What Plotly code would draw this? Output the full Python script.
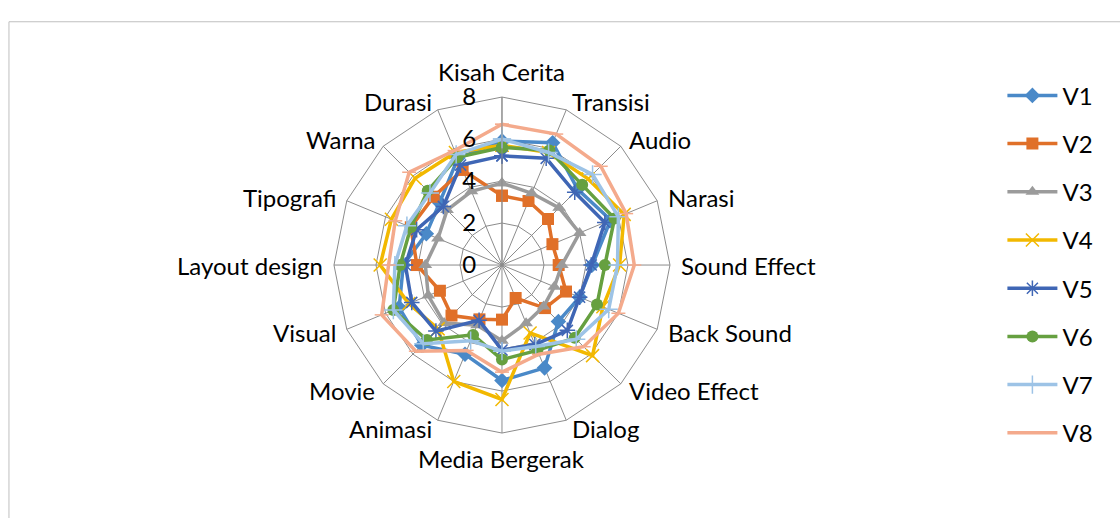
import math
import plotly.graph_objects as go

categories = ["Kisah Cerita", "Transisi", "Audio", "Narasi", "Sound Effect", "Back Sound",
              "Video Effect", "Dialog", "Media Bergerak", "Animasi", "Movie", "Visual",
              "Layout design", "Tipografi", "Warna", "Durasi"]

V1 = [5.9, 6.3, 5.1, 5.6, 4.3, 4.0, 3.8, 5.3, 5.5, 4.6, 5.4, 5.3, 4.7, 3.9, 4.2, 5.5]
V2 = [3.3, 3.3, 3.1, 2.6, 2.7, 3.3, 2.9, 1.7, 2.6, 2.8, 3.4, 3.2, 4.05, 4.7, 4.6, 4.9]
V3 = [3.9, 3.7, 3.85, 4.0, 2.85, 2.7, 2.8, 3.0, 3.6, 3.1, 3.9, 3.8, 3.65, 3.3, 3.7, 3.8]
V4 = [5.7, 5.8, 5.8, 6.3, 5.6, 5.2, 6.1, 3.5, 6.4, 6.0, 4.3, 4.8, 5.8, 5.7, 5.85, 5.8]
V5 = [5.2, 5.5, 4.9, 5.3, 4.25, 4.0, 4.4, 4.1, 4.05, 2.85, 4.45, 4.65, 4.6, 4.4, 3.95, 5.15]
V6 = [5.6, 5.9, 5.4, 5.8, 4.9, 4.9, 4.9, 4.4, 4.5, 3.6, 5.05, 5.6, 4.85, 4.7, 5.0, 5.55]
V7 = [6.0, 5.8, 6.1, 6.0, 5.5, 5.5, 5.0, 4.2, 4.1, 3.9, 5.3, 5.6, 5.1, 4.9, 4.85, 5.7]
V8 = [6.7, 6.75, 6.65, 6.4, 6.3, 6.0, 5.5, 4.6, 5.1, 4.4, 5.8, 6.2, 5.4, 5.5, 6.25, 5.9]

series = [
    ("V1", V1, "#4A89C8", "diamond", 12),
    ("V2", V2, "#E07029", "square", 12),
    ("V3", V3, "#9B9B9B", "triangle-up", 12),
    ("V4", V4, "#F2B800", "x-thin", 13),
    ("V5", V5, "#3F66B5", "asterisk", 13),
    ("V6", V6, "#66A040", "circle", 12),
    ("V7", V7, "#9DC3E6", "cross-thin", 13),
    ("V8", V8, "#F4AA8C", "line-ew", 10),
]

radial_ticks = [0, 2, 4, 6, 8]
FONT = "Lato, Carlito, Calibri, sans-serif"

W, H = 1120, 518
DOM_X = [0.2982, 0.5982]
DOM_Y = [0.164, 0.8127]

fig = go.Figure()
for name, vals, color, symbol, size in series:
    thin = symbol in ("x-thin", "asterisk", "cross-thin", "line-ew")
    fig.add_trace(go.Scatterpolar(
        r=vals + vals[:1],
        theta=categories + categories[:1],
        mode="lines+markers",
        name=name,
        legendgroup=name,
        line=dict(color=color, width=3.5),
        marker=dict(symbol=symbol, size=size, color=color,
                    line=dict(color=color, width=1.5 if thin else 0)),
    ))

# category labels placed just outside the outer ring, anchored by direction
cx = (DOM_X[0] + DOM_X[1]) / 2 * W
cy = H - (DOM_Y[0] + DOM_Y[1]) / 2 * H
ring = (DOM_X[1] - DOM_X[0]) * W / 2
label_r = ring + 9
annotations = []
n = len(categories)
for i, cat in enumerate(categories):
    ang = math.radians(360 * i / n)
    px = cx + label_r * math.sin(ang)
    py = cy - label_r * math.cos(ang)
    if i == 0:
        xa, ya = "center", "bottom"
    elif i == n // 2:
        xa, ya = "center", "top"
    elif i < n // 2:
        xa, ya = "left", "middle"
    else:
        xa, ya = "right", "middle"
    annotations.append(dict(
        x=px / W, y=1 - py / H, xref="paper", yref="paper",
        text=cat, showarrow=False, xanchor=xa, yanchor=ya,
        font=dict(size=24, family=FONT, color="black"),
    ))

fig.update_layout(
    width=W, height=H,
    margin=dict(l=0, r=0, t=0, b=0),
    paper_bgcolor="white",
    plot_bgcolor="white",
    font=dict(family=FONT, size=24, color="black"),
    polar=dict(
        domain=dict(x=DOM_X, y=DOM_Y),
        bgcolor="white",
        gridshape="linear",
        angularaxis=dict(
            direction="clockwise", rotation=90,
            categoryorder="array", categoryarray=categories,
            showline=True, linecolor="#8c8c8c", linewidth=1,
            gridcolor="#8c8c8c", gridwidth=1,
            ticks="", showticklabels=False,
        ),
        radialaxis=dict(
            range=[0, 8], tickvals=radial_ticks, ticktext=[str(t) for t in radial_ticks],
            angle=90, tickangle=90, side="counterclockwise",
            showline=True, linecolor="#8c8c8c", linewidth=1,
            gridcolor="#8c8c8c", gridwidth=1,
            ticks="outside", ticklen=17, tickcolor="rgba(0,0,0,0)",
            tickfont=dict(size=24, family=FONT, color="black"),
        ),
    ),
    legend=dict(
        x=0.895, y=0.8585, xanchor="left", yanchor="top",
        font=dict(size=24, family=FONT, color="black"),
        tracegroupgap=14, itemwidth=50, bgcolor="rgba(0,0,0,0)",
    ),
    annotations=annotations,
    shapes=[dict(type="rect", xref="paper", yref="paper",
                 x0=0.008, x1=1.2, y0=-0.2, y1=0.958,
                 line=dict(color="#bfbfbf", width=1))],
)

fig.write_html("out.html")
